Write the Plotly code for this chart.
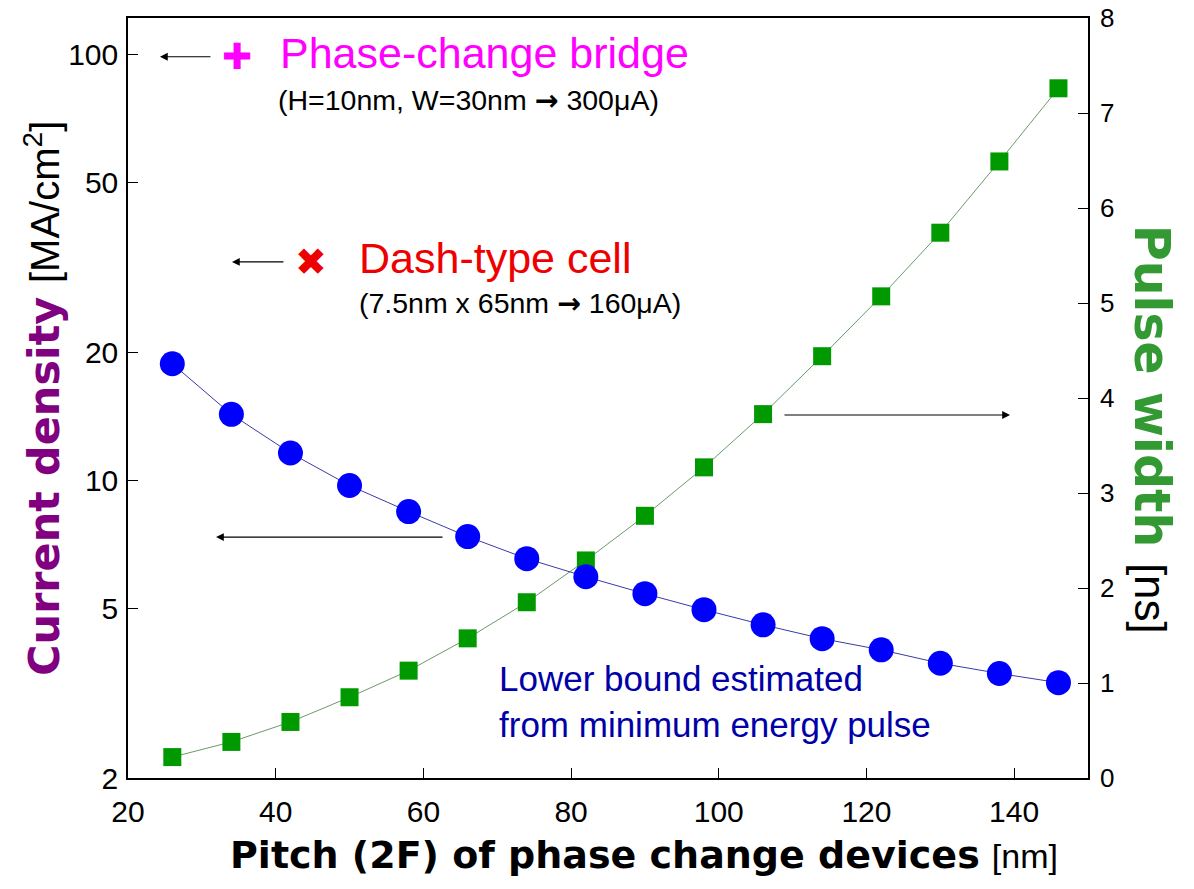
import plotly.graph_objects as go
import numpy as np

# datos
pitch = [26, 34, 42, 50, 58, 66, 74, 82, 90, 98, 106, 114, 122, 130, 138, 146]
current_density = [18.8, 14.3, 11.6, 9.73, 8.45, 7.38, 6.55, 5.94,
                   5.42, 4.97, 4.58, 4.25, 4.00, 3.72, 3.52, 3.35]
pulse_width = [0.22, 0.38, 0.59, 0.85, 1.13, 1.47, 1.85, 2.29,
               2.76, 3.27, 3.83, 4.44, 5.07, 5.74, 6.49, 7.26]

x_ticks = [20, 40, 60, 80, 100, 120, 140]
left_ticks = [2, 5, 10, 20, 50, 100]
right_ticks = [0, 1, 2, 3, 4, 5, 6, 7, 8]

ARIAL = "Liberation Sans, Arial, sans-serif"
BOLDF = "DejaVu Sans, sans-serif"
ARROW = '<span style="font-family:DejaVu Sans"><b>→</b></span>'

fig = go.Figure()

# pulse width (eje derecho, lineal)
fig.add_trace(go.Scatter(
    x=pitch, y=pulse_width, yaxis="y",
    mode="lines+markers",
    line=dict(color="#6a9a6a", width=1),
    marker=dict(symbol="square", size=18, color="#009900"),
    showlegend=False,
))

# current density (eje izquierdo, log) - va encima
fig.add_trace(go.Scatter(
    x=pitch, y=current_density, yaxis="y2",
    mode="lines+markers",
    line=dict(color="#3a3aa8", width=1),
    marker=dict(symbol="circle", size=25, color="#0000ff"),
    showlegend=False,
))

axis_common = dict(
    showline=True, linecolor="black", linewidth=1.5,
    ticks="inside", ticklen=10, tickcolor="black", tickwidth=1,
    showgrid=False, zeroline=False, automargin=False,
    ticklabeloverflow="allow",
)

# la pagina tiene 8px de margen en el body
fig.update_layout(
    width=1194, height=889,
    margin=dict(l=120, r=114, t=10, b=119),
    paper_bgcolor="white", plot_bgcolor="white",
    xaxis=dict(range=[20, 150], tickvals=x_ticks, mirror=True,
               ticklabelstandoff=6,
               tickfont=dict(family=ARIAL, size=30, color="black"),
               **axis_common),
    yaxis=dict(side="right", range=[0, 8], tickvals=right_ticks,
               ticklabelstandoff=5,
               tickfont=dict(family=ARIAL, size=26, color="black"),
               **axis_common),
    yaxis2=dict(side="left", overlaying="y", type="log",
                range=[np.log10(2), np.log10(122)], tickvals=left_ticks,
                ticktext=[str(v) for v in left_ticks],
                ticklabelstandoff=2,
                tickfont=dict(family=ARIAL, size=30, color="black"),
                **axis_common),
)

annots = []

def txt(x, y, text, size, color="black", family=ARIAL, xanchor="left", angle=0, align="left"):
    annots.append(dict(x=x, y=y, xref="paper", yref="paper", text=text,
                       showarrow=False, xanchor=xanchor, yanchor="middle",
                       textangle=angle, align=align,
                       font=dict(family=family, size=size, color=color)))

def arrow(x, y, ax):
    annots.append(dict(x=x, y=y, xref="paper", yref="paper", text="",
                       showarrow=True, ax=ax, ay=0, arrowhead=2,
                       arrowsize=1.3, arrowwidth=1.2, arrowcolor="black"))

# titulos de ejes
txt(-0.0885, 0.4987,
    '<span style="color:#800080"><b>Current density</b></span> '
    '<span style="font-family:Liberation Sans;font-size:40px">[MA/cm<sup>2</sup>]</span>',
    43, family=BOLDF, xanchor="center", angle=-90)
txt(1.066, 0.459,
    '<span style="color:#339933"><b>Pulse width</b></span> '
    '<span style="font-family:Liberation Sans;font-size:44px">[ns]</span>',
    49, family=BOLDF, xanchor="center", angle=90)
txt(0.537, -0.101,
    '<b>Pitch (2F) of phase change devices</b> '
    '<span style="font-family:Liberation Sans;font-size:34px">[nm]</span>',
    38, family=BOLDF, xanchor="center")

# leyendas dentro del grafico
txt(0.1135, 0.949, "✚", 36, color="#ff00ff", family="DejaVu Sans", xanchor="center")
txt(0.156, 0.954, "Phase-change bridge", 43, color="#ff00ff")
txt(0.154, 0.892, f"(H=10nm, W=30nm {ARROW} 300μA)", 28.5)
arrow(0.0333, 0.949, 52)

txt(0.1906, 0.679, "✖", 38, color="#ee0000", family="DejaVu Sans", xanchor="center")
txt(0.2385, 0.684, "Dash-type cell", 43, color="#ee0000")
txt(0.2385, 0.625, f"(7.5nm x 65nm {ARROW} 160μA)", 28.5)
arrow(0.1083, 0.679, 53)

arrow(0.0917, 0.317, 228)
arrow(0.91875, 0.4776, -227)

txt(0.384, 0.101, "Lower bound estimated<br>from minimum energy pulse", 35, color="#0000a8")

fig.update_layout(annotations=annots)

fig.write_html("out.html")
